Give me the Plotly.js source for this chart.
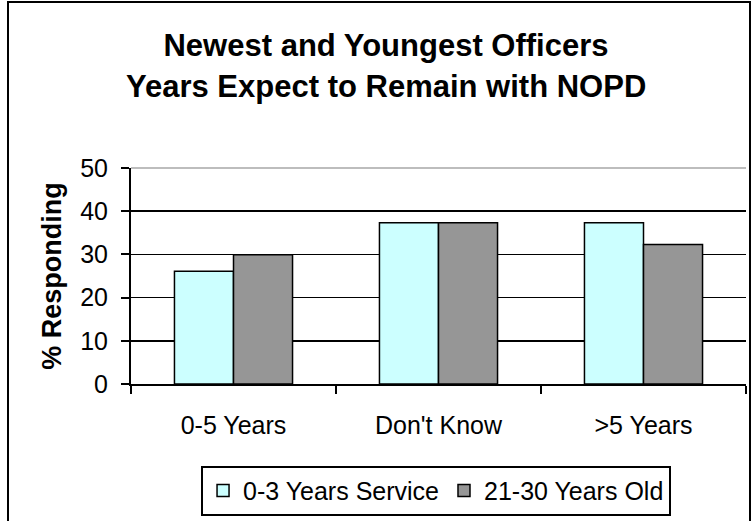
<!DOCTYPE html>
<html><head><meta charset="utf-8">
<script src="https://cdn.plot.ly/plotly-3.0.1.min.js"></script>
<style>
html,body{margin:0;padding:0;background:#fff;}
#wrap{position:relative;width:752px;height:521px;overflow:hidden;}
#chart{width:752px;height:521px;}
#frame{position:absolute;left:7px;top:1px;width:740px;height:600px;border:2px solid #000;pointer-events:none;}
</style>
</head><body>
<div id="wrap"><div id="chart"></div><div id="frame"></div></div>
<script>
const categories = ["0-5 Years", "Don't Know", ">5 Years"];
const seriesNames = ["0-3 Years Service", "21-30 Years Old"];
const service03 = [26.1, 37.3, 37.3];
const age2130 = [29.9, 37.3, 32.3];
const yTickVals = [0, 10, 20, 30, 40, 50];
const titleLines = ["Newest and Youngest Officers", "Years Expect to Remain with NOPD"];
const yTitle = "% Responding";

const FONT = '"Liberation Sans", Arial, sans-serif';

const traces = [
  {type:'bar', name:seriesNames[0], x:categories, y:service03,
   marker:{color:'#CCFFFF', line:{color:'#000', width:1.5}}, hoverinfo:'none'},
  {type:'bar', name:seriesNames[1], x:categories, y:age2130,
   marker:{color:'#969696', line:{color:'#000', width:1.5}}, hoverinfo:'none'}
];

const layout = {
  width:752, height:521,
  margin:{l:131, r:6, t:168, b:134, pad:0},
  paper_bgcolor:'#fff', plot_bgcolor:'#fff',
  font:{family:FONT, color:'#000', size:25},
  title:{text:titleLines[0], font:{family:FONT, size:31, weight:700, color:'#000'},
         xref:'container', x:386/752, xanchor:'center',
         yref:'container', y:1-45/521, yanchor:'middle'},
  annotations:[{text:titleLines[1], showarrow:false, xref:'paper', yref:'paper',
    x:(386-131)/615, xanchor:'center', y:(387-85)/219, yanchor:'middle',
    font:{family:FONT, size:31, weight:700, color:'#000'}}],
  barmode:'group', bargap:0.424, bargroupgap:0,
  showlegend:true,
  legend:{orientation:'h', x:0.496, xanchor:'center', y:-0.378, yanchor:'top',
    bordercolor:'#000', borderwidth:2, bgcolor:'#fff', font:{family:FONT, size:25, color:'#000'}},
  xaxis:{type:'category', showline:true, linecolor:'#000', linewidth:2,
    ticks:'outside', tickson:'boundaries', ticklen:8, tickwidth:2, tickcolor:'#000',
    showgrid:false, zeroline:false, ticklabelstandoff:18, tickfont:{size:25}},
  yaxis:{range:[0,50], tickvals:yTickVals, ticks:'outside', ticklen:8, tickwidth:2, tickcolor:'#000',
    showline:true, linecolor:'#000', linewidth:2, showgrid:true, gridcolor:'#000', gridwidth:1.5,
    zeroline:false, ticklabelstandoff:8, tickfont:{size:25},
    title:{text:yTitle, font:{family:FONT, size:27, weight:700, color:'#000'}, standoff:11}},
  shapes:[{type:'line', xref:'paper', yref:'paper', x0:0, x1:1, y0:1, y1:1,
    line:{color:'#bdbdbd', width:2}}]
};

Plotly.newPlot('chart', traces, layout, {displayModeBar:false, staticPlot:true});
</script>
</body></html>
